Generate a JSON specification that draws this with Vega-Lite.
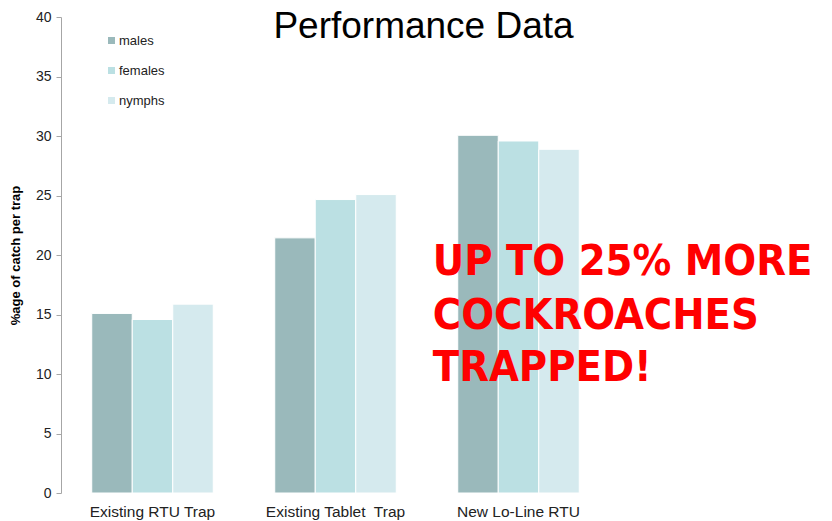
{
  "$schema": "https://vega.github.io/schema/vega-lite/v6.json",
  "autosize": {"type": "none"},
  "width": 549,
  "height": 476,
  "padding": {"left": 61, "top": 17, "right": 222, "bottom": 28},
  "background": "white",
  "config": {
    "view": {"stroke": null},
    "font": "Liberation Sans"
  },
  "title": {
    "text": "Performance Data",
    "fontSize": 37,
    "fontWeight": "normal",
    "font": "Liberation Sans",
    "color": "#000000",
    "anchor": "middle",
    "dx": 88,
    "dy": 40
  },
  "layer": [
    {
      "data": {
        "values": [
          {"trap": "Existing RTU Trap", "group": "males", "value": 15.09},
          {"trap": "Existing RTU Trap", "group": "females", "value": 14.58},
          {"trap": "Existing RTU Trap", "group": "nymphs", "value": 15.87},
          {"trap": "Existing Tablet\u00a0 Trap", "group": "males", "value": 21.44},
          {"trap": "Existing Tablet\u00a0 Trap", "group": "females", "value": 24.66},
          {"trap": "Existing Tablet\u00a0 Trap", "group": "nymphs", "value": 25.08},
          {"trap": "New Lo-Line RTU", "group": "males", "value": 30.06},
          {"trap": "New Lo-Line RTU", "group": "females", "value": 29.58},
          {"trap": "New Lo-Line RTU", "group": "nymphs", "value": 28.88}
        ]
      },
      "mark": {"type": "bar", "stroke": "#ffffff", "strokeWidth": 1},
      "encoding": {
        "x": {
          "field": "trap",
          "type": "nominal",
          "sort": null,
          "scale": {"paddingInner": 0.336, "paddingOuter": 0.168},
          "axis": {
            "title": null,
            "labelAngle": 0,
            "domain": false,
            "ticks": false,
            "labelPadding": 11,
            "labelFontSize": 15.5,
            "labelColor": "#222222",
            "labelFont": "Liberation Sans"
          }
        },
        "xOffset": {
          "field": "group",
          "type": "nominal",
          "sort": ["males", "females", "nymphs"],
          "scale": {"paddingInner": 0, "paddingOuter": 0}
        },
        "y": {
          "field": "value",
          "type": "quantitative",
          "scale": {"domain": [0, 40], "nice": false},
          "axis": {
            "title": "%age of catch per trap",
            "titleFontSize": 13,
            "titleFontWeight": "bold",
            "titleColor": "#000000",
            "titleFont": "Liberation Sans",
            "titlePadding": 13,
            "values": [0, 5, 10, 15, 20, 25, 30, 35, 40],
            "grid": false,
            "domainColor": "#a6a6a6",
            "tickColor": "#a6a6a6",
            "tickSize": 5,
            "labelPadding": 5,
            "labelFontSize": 14,
            "labelColor": "#222222",
            "labelFont": "Liberation Sans"
          }
        },
        "color": {
          "field": "group",
          "type": "nominal",
          "sort": ["males", "females", "nymphs"],
          "scale": {"domain": ["males", "females", "nymphs"], "range": ["#9ab9bb", "#bbe0e3", "#d5eaee"]},
          "legend": {
            "title": null,
            "orient": "none",
            "legendX": 44,
            "legendY": 17,
            "padding": 0,
            "symbolType": "square",
            "symbolSize": 49,
            "symbolStrokeWidth": 0,
            "labelFontSize": 13,
            "labelColor": "#222222",
            "labelFont": "Liberation Sans",
            "labelOffset": 1,
            "rowPadding": 16
          }
        }
      }
    },
    {
      "data": {
        "values": [
          {"line": "UP TO 25% MORE", "trap": "New Lo-Line RTU", "pos": 18.3},
          {"line": "COCKROACHES", "trap": "New Lo-Line RTU", "pos": 13.8},
          {"line": "TRAPPED!", "trap": "New Lo-Line RTU", "pos": 9.4}
        ]
      },
      "mark": {
        "type": "text",
        "align": "left",
        "baseline": "alphabetic",
        "dx": -25,
        "font": "DejaVu Sans Condensed",
        "fontSize": 43,
        "fontWeight": "bold",
        "color": "#ff0000"
      },
      "encoding": {
        "x": {"field": "trap", "type": "nominal", "bandPosition": 0},
        "y": {"field": "pos", "type": "quantitative"},
        "text": {"field": "line"}
      }
    }
  ]
}
